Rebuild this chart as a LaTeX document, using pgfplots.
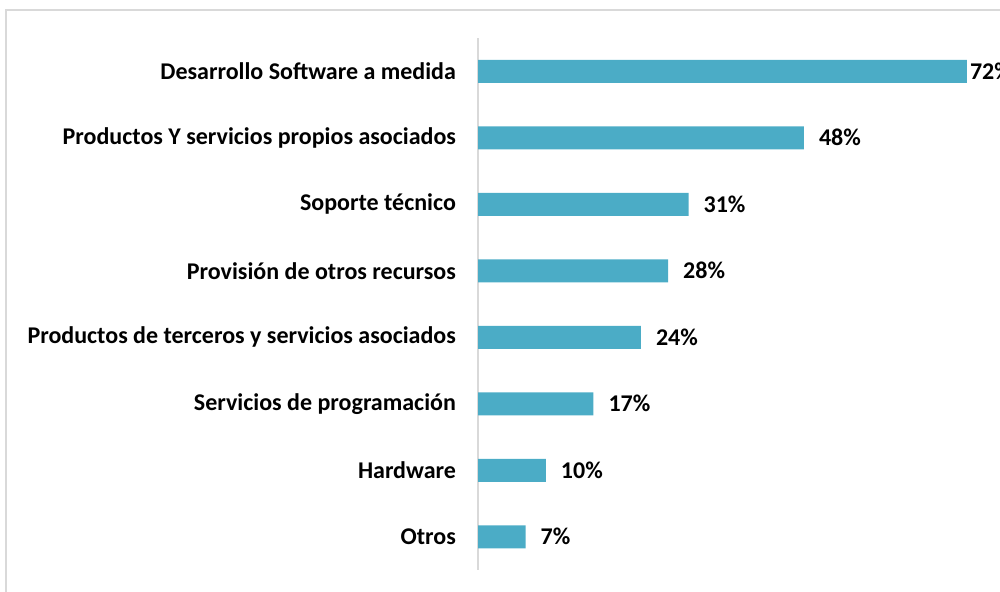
\documentclass[border=0pt]{standalone}
\usepackage{fontspec}
\setmainfont{Carlito}
\usepackage{pgfplots}
\pgfplotsset{compat=1.18}
\definecolor{barteal}{HTML}{4BACC6}
\definecolor{framegray}{HTML}{D9D9D9}

\begin{document}
\begin{tikzpicture}[x=0.5pt,y=0.5pt]
  \useasboundingbox (0,0) rectangle (1000,591);
  \clip (0,0) rectangle (1000,591);
  % chart frame (runs off the right and bottom edges)
  \draw[framegray, line width=1pt] (6,-20) -- (6,581) -- (1020,581);
  \coordinate (origin) at (478,21);
  \begin{axis}[
      at={(origin)}, anchor=south west,
      scale only axis,
      width=244.5pt, height=266pt,
      xmin=0, xmax=72,
      ymin=-0.5, ymax=7.5,
      y dir=reverse,
      xbar, bar width=11.5pt,
      axis x line=none,
      axis y line*=left,
      y axis line style={framegray, line width=1pt, -},
      ytick={0,...,7},
      major tick length=0pt,
      yticklabels={Desarrollo Software a medida,
        Productos Y servicios propios asociados,
        Soporte técnico,
        Provisión de otros recursos,
        Productos de terceros y servicios asociados,
        Servicios de programación,
        Hardware,
        Otros},
      yticklabel style={font=\fontsize{12}{14}\selectfont\bfseries, xshift=-7.5pt},
      /pgf/number format/assume math mode=true,
      nodes near coords={\pgfmathprintnumber{\pgfplotspointmeta}\%},
      every node near coord/.append style={font=\fontsize{12}{14}\selectfont\bfseries, black, anchor=west, xshift=4pt},
      coordinate style/.condition={x>70}{xshift=-6pt},
      clip=false,
    ]
    \addplot[fill=barteal, draw=none] coordinates {
      (72,0) (48,1) (31,2) (28,3) (24,4) (17,5) (10,6) (7,7)
    };
  \end{axis}
\end{tikzpicture}
\end{document}
